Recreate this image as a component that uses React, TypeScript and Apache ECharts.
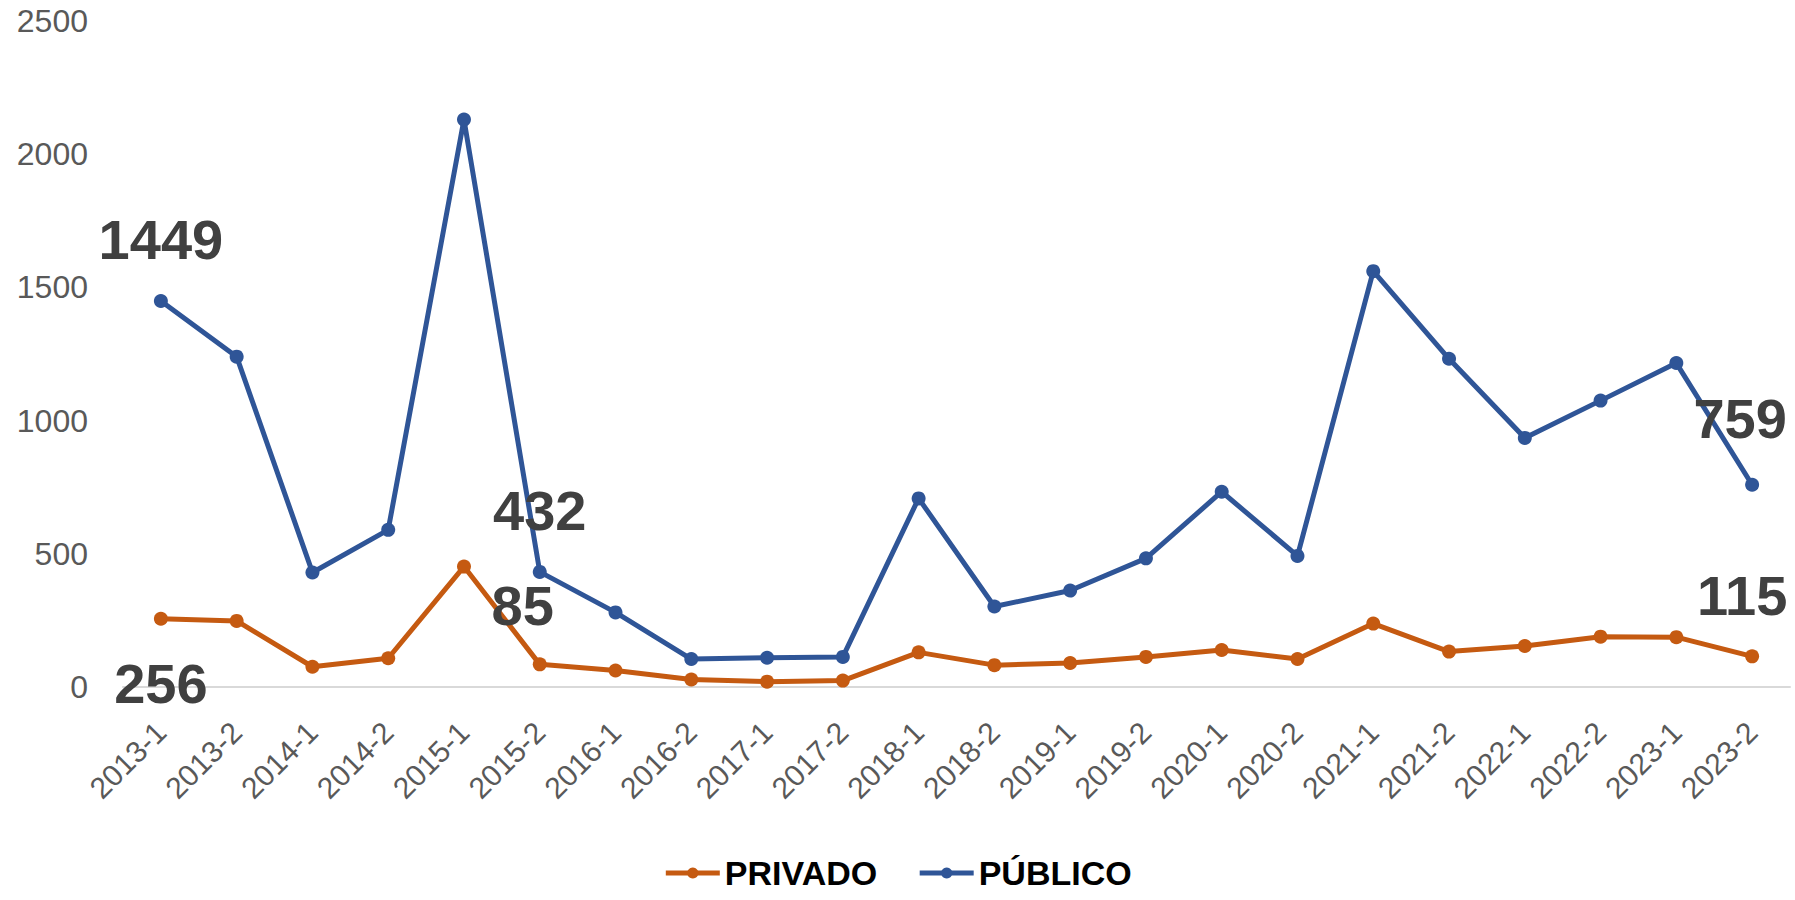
import React, { useEffect, useRef } from "react";
import * as echarts from "echarts";

const CATEGORIES = [
  "2013-1", "2013-2", "2014-1", "2014-2", "2015-1", "2015-2", "2016-1", "2016-2",
  "2017-1", "2017-2", "2018-1", "2018-2", "2019-1", "2019-2", "2020-1", "2020-2",
  "2021-1", "2021-2", "2022-1", "2022-2", "2023-1", "2023-2",
];
const PRIVADO = [256, 248, 76, 108, 452, 85, 62, 28, 20, 24, 130, 82, 90, 113, 139, 105, 238, 133, 154, 189, 187, 115];
const PUBLICO = [1449, 1240, 430, 590, 2130, 432, 280, 105, 110, 113, 708, 302, 362, 483, 733, 492, 1561, 1232, 935, 1075, 1216, 759];
const Y_TICKS = [0, 500, 1000, 1500, 2000, 2500];
const LABELED_PRIVADO = [0, 5, 21];
const LABELED_PUBLICO = [0, 5, 21];

const BLUE = "#2F5597";
const ORANGE = "#C55A11";
const LABEL_FONT = {
  fontFamily: "'Liberation Sans', Arial, sans-serif",
  fontWeight: "bold" as const,
  fontSize: 56,
  color: "#404040",
};

export default function App() {
  const ref = useRef<HTMLDivElement>(null);
  useEffect(() => {
    if (!ref.current) return;
    const chart = echarts.init(ref.current, null, { renderer: "svg" });

    const privLabelCfg: Record<number, any> = {
      0: { position: "bottom", distance: 30 },
      5: { position: "top", distance: 24, offset: [-17, 0] },
      21: { position: "top", distance: 26, offset: [-10, 0] },
    };
    const pubLabelCfg: Record<number, any> = {
      0: { position: "top", distance: 26 },
      5: { position: "top", distance: 26 },
      21: { position: "top", distance: 31, offset: [-12, 0] },
    };

    const privData = PRIVADO.map((v, i) =>
      LABELED_PRIVADO.includes(i)
        ? { value: v, label: { show: true, ...LABEL_FONT, ...privLabelCfg[i] } }
        : v
    );
    const pubData = PUBLICO.map((v, i) =>
      LABELED_PUBLICO.includes(i)
        ? { value: v, label: { show: true, ...LABEL_FONT, ...pubLabelCfg[i] } }
        : v
    );

    chart.setOption({
      animation: false,
      backgroundColor: "#ffffff",
      grid: { left: 123, right: 5, top: 21, bottom: 213, containLabel: false },
      legend: {
        data: ["PRIVADO", "PÚBLICO"],
        left: "center",
        top: 850,
        itemWidth: 54,
        itemHeight: 14,
        itemGap: 40,
        lineStyle: { width: 5 },
        textStyle: {
          fontFamily: "'Liberation Sans Narrow', 'Liberation Sans', Arial, sans-serif",
          fontWeight: "bold",
          fontSize: 34,
          lineHeight: 36,
          color: "#000000",
        },
      },
      xAxis: {
        type: "category",
        data: CATEGORIES,
        boundaryGap: true,
        axisLine: { show: true, lineStyle: { color: "#D9D9D9", width: 2 } },
        axisTick: { show: false },
        axisLabel: {
          rotate: 45,
          margin: 40,
          interval: 0,
          fontFamily: "'Liberation Sans', Arial, sans-serif",
          fontSize: 30,
          color: "#595959",
        },
        splitLine: { show: false },
      },
      yAxis: {
        type: "value",
        min: Y_TICKS[0],
        max: Y_TICKS[Y_TICKS.length - 1],
        interval: Y_TICKS[1] - Y_TICKS[0],
        axisLine: { show: false },
        axisTick: { show: false },
        splitLine: { show: false },
        axisLabel: {
          margin: 35,
          fontFamily: "'Liberation Sans', Arial, sans-serif",
          fontSize: 32,
          color: "#595959",
          formatter: (v: number) => String(v),
        },
      },
      series: [
        {
          name: "PRIVADO",
          type: "line",
          data: privData,
          symbol: "circle",
          symbolSize: 14,
          lineStyle: { color: ORANGE, width: 5 },
          itemStyle: { color: ORANGE },
          label: { show: false },
        },
        {
          name: "PÚBLICO",
          type: "line",
          data: pubData,
          symbol: "circle",
          symbolSize: 14,
          lineStyle: { color: BLUE, width: 5 },
          itemStyle: { color: BLUE },
          label: { show: false },
        },
      ],
    });
    return () => chart.dispose();
  }, []);

  return (
    <div
      ref={ref}
      style={{ position: "fixed", left: 0, top: 0, width: 1795, height: 900 }}
    />
  );
}
